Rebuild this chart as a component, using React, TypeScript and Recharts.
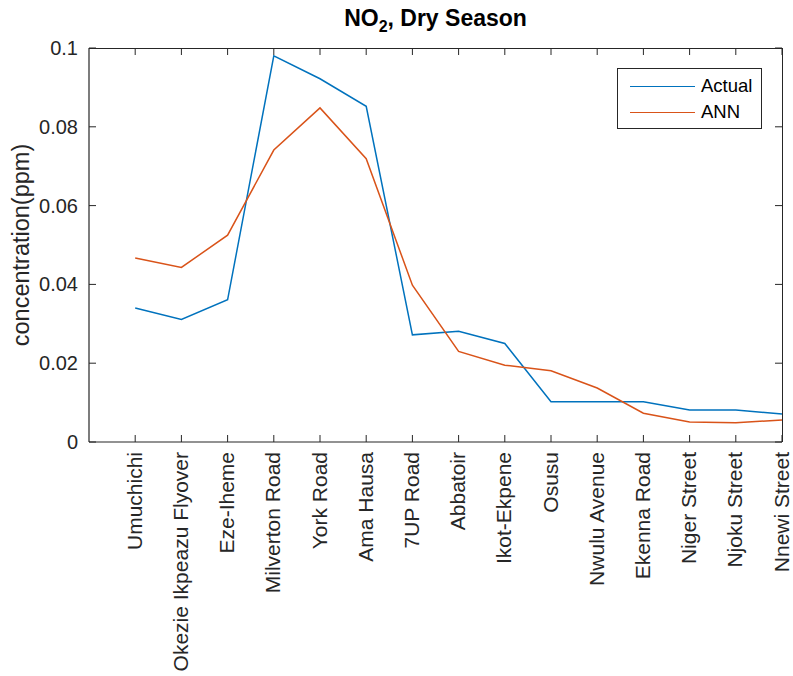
import React from "react";
import { LineChart, Line, XAxis, YAxis } from "recharts";

const sites = [
  "Umuchichi",
  "Okezie Ikpeazu Flyover",
  "Eze-Iheme",
  "Milverton Road",
  "York Road",
  "Ama Hausa",
  "7UP Road",
  "Abbatoir",
  "Ikot-Ekpene",
  "Osusu",
  "Nwulu Avenue",
  "Ekenna Road",
  "Niger Street",
  "Njoku Street",
  "Nnewi Street",
];

const actual = [
  0.034, 0.0311, 0.0361, 0.098, 0.0922, 0.0852, 0.0272, 0.0281, 0.025, 0.0102,
  0.0102, 0.0102, 0.0081, 0.0081, 0.0071,
];

const ann = [
  0.0467, 0.0443, 0.0525, 0.0741, 0.0848, 0.0719, 0.0398, 0.023, 0.0195,
  0.0181, 0.0137, 0.0073, 0.0051, 0.0049, 0.0056,
];

const yTicks = [0, 0.02, 0.04, 0.06, 0.08, 0.1];

const series = [
  { key: "actual", name: "Actual", color: "#0072BD" },
  { key: "ann", name: "ANN", color: "#D95319" },
];

const data = sites.map((name, i) => ({
  pos: i + 1,
  name,
  actual: actual[i],
  ann: ann[i],
}));
const xTicks = data.map((d) => d.pos);
const X_MAX = sites.length;
const Y_MAX = yTicks[yTicks.length - 1];

const W = 793;
const H = 676;
const M_TOP = 48;
const M_RIGHT = 11;
const Y_AXIS_W = 89;
const X_AXIS_H = 234;
const PLOT_W = W - Y_AXIS_W - M_RIGHT;
const PLOT_H = H - M_TOP - X_AXIS_H;

const FONT = "'Liberation Sans', Arial, Helvetica, sans-serif";
const INK = "#262626";

// bottom tick: inward mark + mirrored mark on the top edge, rotated label
function BottomTick({ x, y, payload }: any) {
  const label = sites[payload.value - 1];
  const top = y - PLOT_H;
  return (
    <g>
      <line x1={x} x2={x} y1={y} y2={y - 7} stroke={INK} strokeWidth={1} />
      <line x1={x} x2={x} y1={top} y2={top + 7} stroke={INK} strokeWidth={1} />
      <text
        transform={`translate(${x - 1},${y + 10}) rotate(-90)`}
        textAnchor="end"
        dominantBaseline="central"
        fontSize={21}
        fontFamily={FONT}
        fill={INK}
      >
        {label}
      </text>
    </g>
  );
}

// left tick: inward mark + mirrored mark on the right edge
function LeftTick({ x, y, payload }: any) {
  const right = x + PLOT_W;
  return (
    <g>
      <line x1={x} x2={x + 7} y1={y} y2={y} stroke={INK} strokeWidth={1} />
      <line x1={right - 7} x2={right} y1={y} y2={y} stroke={INK} strokeWidth={1} />
      <text
        x={x - 11}
        y={y}
        textAnchor="end"
        dominantBaseline="central"
        fontSize={20}
        fontFamily={FONT}
        fill={INK}
      >
        {String(payload.value)}
      </text>
    </g>
  );
}

export default function App() {
  return (
    <div
      style={{
        position: "fixed",
        left: 0,
        top: 0,
        width: W,
        height: H,
        background: "#fff",
        fontFamily: FONT,
      }}
    >
      <div
        style={{
          position: "absolute",
          left: Y_AXIS_W,
          width: PLOT_W,
          top: 4,
          textAlign: "center",
          fontSize: 23,
          fontWeight: "bold",
          color: "#000",
          lineHeight: "28px",
        }}
      >
        NO<sub style={{ fontSize: 16, verticalAlign: -6 }}>2</sub>, Dry Season
      </div>
      <div
        style={{
          position: "absolute",
          left: 21,
          top: 245,
          transform: "translate(-50%, -50%) rotate(-90deg)",
          whiteSpace: "nowrap",
          fontSize: 23.5,
          color: INK,
        }}
      >
        concentration(ppm)
      </div>
      <LineChart
        width={W}
        height={H}
        data={data}
        margin={{ top: M_TOP, right: M_RIGHT, bottom: 0, left: 0 }}
      >
        <XAxis
          dataKey="pos"
          type="number"
          domain={[0, X_MAX]}
          ticks={xTicks}
          interval={0}
          height={X_AXIS_H}
          tickSize={0}
          tickMargin={0}
          tick={<BottomTick />}
          axisLine={{ stroke: INK, strokeWidth: 1.2 }}
          tickLine={false}
        />
        <YAxis
          type="number"
          domain={[0, Y_MAX]}
          ticks={yTicks}
          interval={0}
          width={Y_AXIS_W}
          tickSize={0}
          tickMargin={0}
          tick={<LeftTick />}
          axisLine={{ stroke: INK, strokeWidth: 1.2 }}
          tickLine={false}
        />
        {series.map((s) => (
          <Line
            key={s.key}
            dataKey={s.key}
            name={s.name}
            stroke={s.color}
            strokeWidth={1.5}
            dot={false}
            isAnimationActive={false}
          />
        ))}
      </LineChart>
      {/* top and right edges of the axes box */}
      <div
        style={{
          position: "absolute",
          left: Y_AXIS_W,
          top: M_TOP,
          width: PLOT_W + 1,
          height: PLOT_H,
          boxSizing: "border-box",
          borderTop: `1px solid ${INK}`,
          borderRight: `1px solid ${INK}`,
          pointerEvents: "none",
        }}
      />
      <div
        style={{
          position: "absolute",
          left: 617,
          top: 68,
          width: 145,
          height: 61,
          boxSizing: "border-box",
          border: `1px solid ${INK}`,
          background: "#fff",
          padding: "4px 0 0 12px",
          fontSize: 18.5,
          color: "#000",
        }}
      >
        {series.map((s) => (
          <div
            key={s.key}
            style={{ display: "flex", alignItems: "center", height: 26 }}
          >
            <span
              style={{
                display: "inline-block",
                width: 65,
                height: 0,
                borderTop: `1.5px solid ${s.color}`,
                marginRight: 6,
              }}
            />
            <span>{s.name}</span>
          </div>
        ))}
      </div>
    </div>
  );
}
